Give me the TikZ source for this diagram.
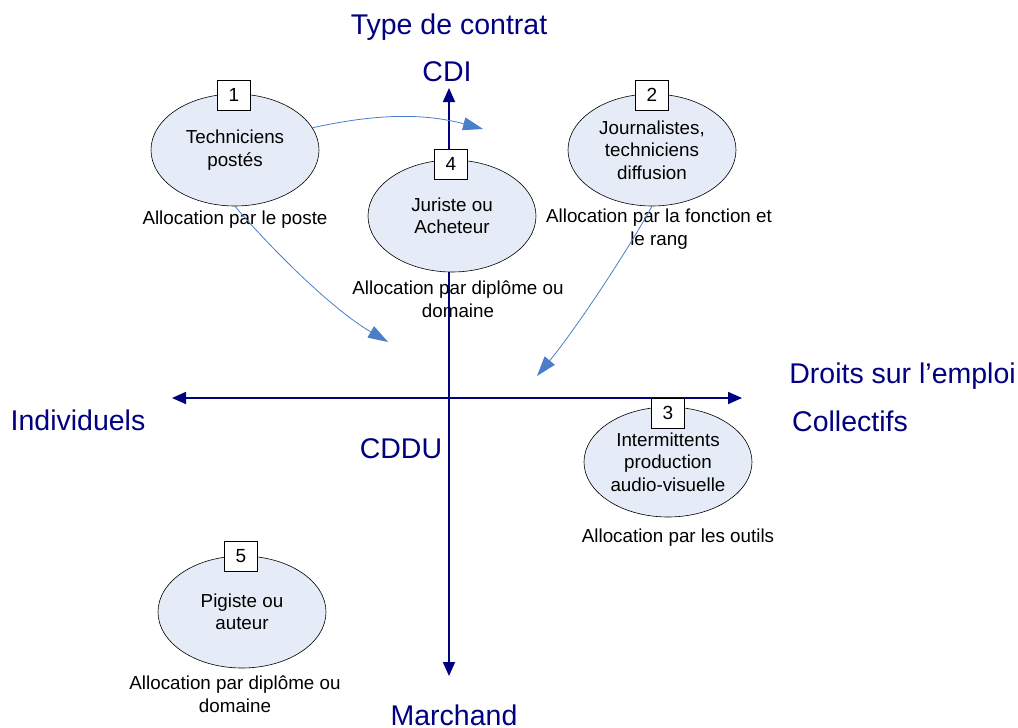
\documentclass[tikz,border=0pt]{standalone}
\usepackage{fontspec}
\setmainfont{Liberation Sans}
\usetikzlibrary{shapes.geometric,arrows.meta}
\definecolor{navy}{RGB}{0,0,128}
\definecolor{ellfill}{RGB}{230,236,247}
\definecolor{arrblue}{RGB}{74,126,200}
\begin{document}
\begin{tikzpicture}[x=1pt,y=-1pt,
  ell/.style={ellipse,draw=black,fill=ellfill,line width=0.6pt,minimum width=168pt,minimum height=112pt,inner sep=0pt,align=center,font=\fontsize{18.8}{22.5}\selectfont},
  numbox/.style={draw=black,fill=white,line width=0.6pt,minimum width=33pt,minimum height=30pt,inner sep=0pt,font=\fontsize{19}{22}\selectfont},
  caption/.style={align=center,font=\fontsize{18.8}{22.5}\selectfont,inner sep=0pt},
  axlabel/.style={text=navy,font=\fontsize{28.5}{32}\selectfont,inner sep=0pt},
  axis/.style={draw=navy,line width=1.8pt,{Triangle[length=14pt,width=12pt]}-{Triangle[length=14pt,width=12pt]}},
  flow/.style={draw=arrblue,line width=0.8pt,-{Triangle[length=20pt,width=13pt]}}]
\useasboundingbox (0,0) rectangle (1018,728);
% axes
\coordinate (ytop) at (449,88);
\coordinate (ybot) at (449,676);
\coordinate (xleft) at (172,398);
\coordinate (xright) at (742,398);
\draw[axis] (ytop) -- (ybot);
\draw[axis] (xleft) -- (xright);
% axis labels
\node[axlabel] (tdc) at (449,27) {Type de contrat};
\node[axlabel] (cdi) at (447,72) {CDI};
\node[axlabel,anchor=east] (dse) at (1016,376) {Droits sur l’emploi};
\node[axlabel] (ind) at (78,420) {Individuels};
\node[axlabel] (col) at (850,421) {Collectifs};
\node[axlabel] (cddu) at (401,449) {CDDU};
\node[axlabel,anchor=base] (mar) at (454,725) {Marchand};
% ellipses
\node[ell] (e1) at (235,150) {Techniciens\\postés};
\node[ell] (e2) at (652,150) {Journalistes,\\techniciens\\diffusion};
\node[ell] (e4) at (452,216) {Juriste ou\\Acheteur};
\node[ell,minimum height=110pt] (e3) at (668,462) {Intermittents\\production\\audio-visuelle};
\node[ell] (e5) at (242,612) {Pigiste ou\\auteur};
% number boxes
\node[numbox] (b1) at (234,95) {1};
\node[numbox] (b2) at (652,95) {2};
\node[numbox] (b4) at (451,164) {4};
\node[numbox] (b3) at (668,413) {3};
\node[numbox] (b5) at (241,556) {5};
% captions
\node[caption] (c1) at (235,220) {Allocation par le poste};
\node[caption] (c2) at (659,229) {Allocation par la fonction et\\le rang};
\node[caption] (c4) at (458,299) {Allocation par diplôme ou\\domaine};
\node[caption] (c3) at (678,538) {Allocation par les outils};
\node[caption] (c5) at (235,694) {Allocation par diplôme ou\\domaine};
% flow arrows
\coordinate (fa) at (483,129);
\coordinate (fb) at (388,342);
\coordinate (fc) at (537,376);
\draw[flow] (e1.16) .. controls (370,115) and (420,112) .. (fa);
\draw[flow] (e1.south) .. controls (268,245) and (330,308) .. (fb);
\draw[flow] (e2.south) .. controls (625,255) and (575,330) .. (fc);
\end{tikzpicture}
\end{document}
